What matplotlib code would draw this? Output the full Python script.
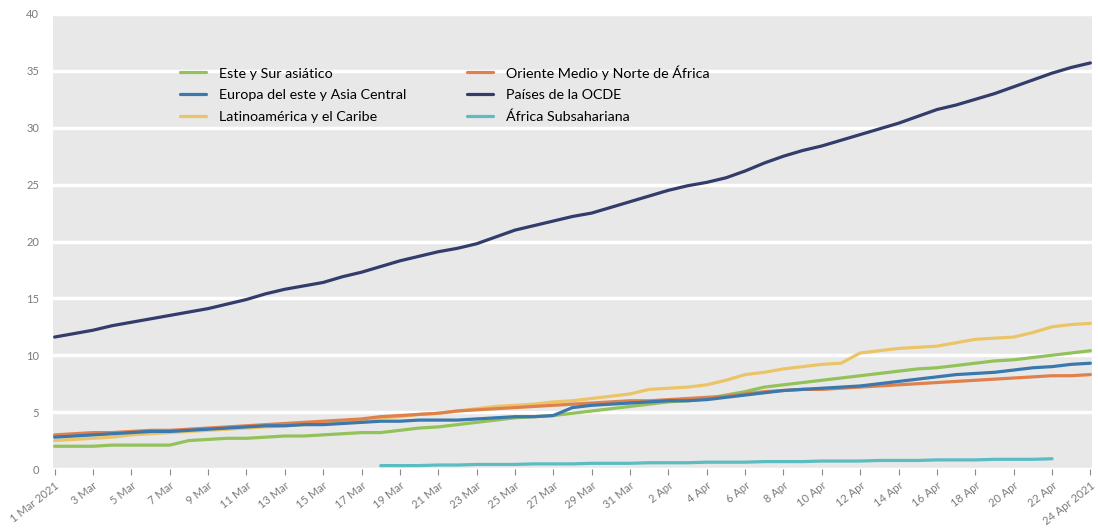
import matplotlib
matplotlib.use("Agg")
import matplotlib.pyplot as plt
import numpy as np
import pandas as pd

plt.rcParams['font.family'] = ['Lato', 'DejaVu Sans']

# Daily series, 1 Mar 2021 to 24 Apr 2021
dates = pd.date_range("2021-03-01", "2021-04-24", freq="D")

este_sur_asiatico = [
    2.0, 2.0, 2.0, 2.1, 2.1, 2.1, 2.1, 2.5, 2.6, 2.7, 2.7, 2.8, 2.9, 2.9, 3.0, 3.1,
    3.2, 3.2, 3.4, 3.6, 3.7, 3.9, 4.1, 4.3, 4.5, 4.6, 4.7, 4.9, 5.1, 5.3, 5.5,
    5.7, 5.9, 6.0, 6.2, 6.5, 6.8, 7.2, 7.4, 7.6, 7.8, 8.0, 8.2, 8.4, 8.6, 8.8, 8.9,
    9.1, 9.3, 9.5, 9.6, 9.8, 10.0, 10.2, 10.4,
]
europa_este_asia_central = [
    2.8, 2.9, 3.0, 3.1, 3.2, 3.3, 3.3, 3.4, 3.5, 3.6, 3.7, 3.8, 3.8, 3.9, 3.9, 4.0,
    4.1, 4.2, 4.2, 4.3, 4.3, 4.3, 4.4, 4.5, 4.6, 4.6, 4.7, 5.4, 5.6, 5.7, 5.8,
    5.9, 6.0, 6.0, 6.1, 6.3, 6.5, 6.7, 6.9, 7.0, 7.1, 7.2, 7.3, 7.5, 7.7, 7.9, 8.1,
    8.3, 8.4, 8.5, 8.7, 8.9, 9.0, 9.2, 9.3,
]
latinoamerica_caribe = [
    2.5, 2.6, 2.7, 2.8, 3.0, 3.1, 3.2, 3.3, 3.4, 3.5, 3.6, 3.7, 3.8, 3.9, 4.0, 4.1,
    4.3, 4.5, 4.6, 4.8, 4.9, 5.1, 5.3, 5.5, 5.6, 5.7, 5.9, 6.0, 6.2, 6.4, 6.6,
    7.0, 7.1, 7.2, 7.4, 7.8, 8.3, 8.5, 8.8, 9.0, 9.2, 9.3, 10.2, 10.4, 10.6, 10.7, 10.8,
    11.1, 11.4, 11.5, 11.6, 12.0, 12.5, 12.7, 12.8,
]
oriente_medio_norte_africa = [
    3.0, 3.1, 3.2, 3.2, 3.3, 3.4, 3.4, 3.5, 3.6, 3.7, 3.8, 3.9, 4.0, 4.1, 4.2, 4.3,
    4.4, 4.6, 4.7, 4.8, 4.9, 5.1, 5.2, 5.3, 5.4, 5.5, 5.6, 5.7, 5.8, 5.9, 6.0,
    6.0, 6.1, 6.2, 6.3, 6.4, 6.6, 6.8, 6.9, 7.0, 7.0, 7.1, 7.2, 7.3, 7.4, 7.5, 7.6,
    7.7, 7.8, 7.9, 8.0, 8.1, 8.2, 8.2, 8.3,
]
paises_ocde = [
    11.6, 11.9, 12.2, 12.6, 12.9, 13.2, 13.5, 13.8, 14.1, 14.5, 14.9, 15.4, 15.8, 16.1, 16.4, 16.9,
    17.3, 17.8, 18.3, 18.7, 19.1, 19.4, 19.8, 20.4, 21.0, 21.4, 21.8, 22.2, 22.5, 23.0, 23.5,
    24.0, 24.5, 24.9, 25.2, 25.6, 26.2, 26.9, 27.5, 28.0, 28.4, 28.9, 29.4, 29.9, 30.4, 31.0, 31.6,
    32.0, 32.5, 33.0, 33.6, 34.2, 34.8, 35.3, 35.7,
]
# África Subsahariana: 18 Mar to 22 Apr
africa_dates = pd.date_range("2021-03-18", "2021-04-22", freq="D")
africa_subsahariana = [
    0.3, 0.3, 0.3, 0.35, 0.35, 0.4, 0.4, 0.4, 0.45, 0.45, 0.45, 0.5, 0.5, 0.5,
    0.55, 0.55, 0.55, 0.6, 0.6, 0.6, 0.65, 0.65, 0.65, 0.7, 0.7, 0.7, 0.75, 0.75,
    0.75, 0.8, 0.8, 0.8, 0.85, 0.85, 0.85, 0.9,
]

y_ticks = [0, 5, 10, 15, 20, 25, 30, 35, 40]
tick_dates = list(pd.date_range("2021-03-01", "2021-03-31", freq="2D")) + \
    list(pd.date_range("2021-04-02", "2021-04-24", freq="2D"))
tick_labels = ["1 Mar 2021"] + [f"{d.day} Mar" for d in tick_dates[1:16]] + \
    [f"{d.day} Apr" for d in tick_dates[16:-1]] + ["24 Apr 2021"]

series = [
    ("Este y Sur asiático", dates, este_sur_asiatico, "#93c25a"),
    ("Europa del este y Asia Central", dates, europa_este_asia_central, "#3a78ad"),
    ("Latinoamérica y el Caribe", dates, latinoamerica_caribe, "#ecc468"),
    ("Oriente Medio y Norte de África", dates, oriente_medio_norte_africa, "#e0814c"),
    ("Países de la OCDE", dates, paises_ocde, "#333c6a"),
    ("África Subsahariana", africa_dates, africa_subsahariana, "#5bbcc2"),
]

fig = plt.figure(figsize=(10.98, 5.29), dpi=100)
ax = fig.add_axes([53 / 1098, 1 - 469 / 529, (1092 - 53) / 1098, (469 - 14) / 529])
ax.set_facecolor("#e8e8e8")

draw_order = [2, 0, 3, 1, 4, 5]
handles = {}
for i in draw_order:
    name, x, y, c = series[i]
    (ln,) = ax.plot(x, y, color=c, lw=2.3, label=name, solid_capstyle="round", zorder=3)
    handles[i] = ln

ax.set_ylim(0, 40)
ax.set_xlim(dates[0] - pd.Timedelta(hours=2), dates[-1] + pd.Timedelta(hours=2))
ax.set_yticks(y_ticks)
ax.set_yticklabels([str(v) for v in y_ticks])
ax.grid(axis="y", color="white", lw=2.5, zorder=1)
ax.set_axisbelow(True)
for s in ax.spines.values():
    s.set_visible(False)

ax.set_xticks(tick_dates)
ax.set_xticklabels(tick_labels, rotation=38, ha="right", rotation_mode="anchor")
ax.tick_params(axis="x", colors="#8a8a8a", labelcolor="#7a7a7a", labelsize=8,
               length=4, width=0.8, direction="out", pad=4)
ax.tick_params(axis="y", length=0, labelcolor="#7a7a7a", labelsize=8, pad=10)

leg = ax.legend([handles[i] for i in range(6)], [s[0] for s in series], ncol=2,
                loc="upper left", bbox_to_anchor=(180 / 1098, 1 - 65 / 529),
                bbox_transform=fig.transFigure, frameon=False, fontsize=10.3,
                handlelength=1.8, handletextpad=0.95, labelspacing=0.68,
                columnspacing=4.2, borderpad=0, borderaxespad=0)

fig.savefig("out.png", dpi=100, facecolor="white")
